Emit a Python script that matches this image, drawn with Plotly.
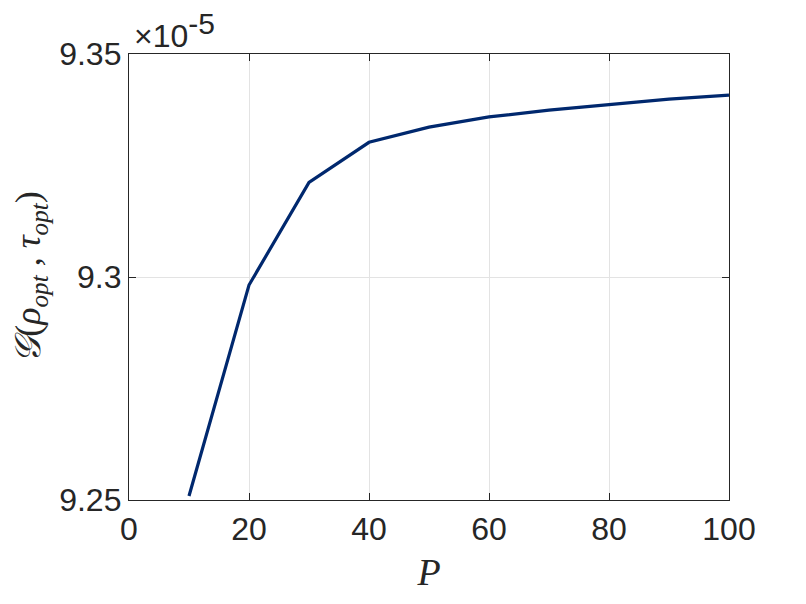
import plotly.graph_objects as go

P = [10, 20, 30, 40, 50, 60, 70, 80, 90, 100]
G_scaled = [9.2509, 9.2982, 9.3212, 9.3302, 9.3336, 9.3359, 9.3374, 9.3387, 9.3399, 9.3408]  # x 1e-5

x_ticks = [0, 20, 40, 60, 80, 100]
y_ticks = [9.25, 9.3, 9.35]
y_tick_text = ["9.25", "9.3", "9.35"]

fig = go.Figure()
fig.add_trace(go.Scatter(x=P, y=G_scaled, mode="lines",
                         line=dict(color="#00286e", width=3.2), showlegend=False))

axis_common = dict(showline=True, linecolor="#262626", linewidth=1.3, mirror="ticks",
                   ticks="inside", ticklen=7, tickcolor="#262626", automargin=False,
                   showgrid=True, gridcolor="#e3e3e3", gridwidth=1, zeroline=False,
                   tickfont=dict(family="Liberation Sans, Arial", size=32, color="#262626"))

fig.update_xaxes(range=[0, 100], tickvals=x_ticks, ticktext=[str(v) for v in x_ticks],
                 title=dict(text="<i>P</i>", font=dict(family="Liberation Serif, Times New Roman", size=38, color="#262626"),
                            standoff=12),
                 **axis_common)
fig.update_yaxes(range=[9.25, 9.35], tickvals=y_ticks, ticktext=y_tick_text,
                 title=dict(text="<i>𝒢</i>(<i>ρ</i><sub><i>opt</i></sub> , <i>τ</i><sub><i>opt</i></sub>)",
                            font=dict(family="Liberation Serif, DejaVu Serif, Times New Roman", size=36, color="#262626"),
                            standoff=16),
                 **axis_common)

fig.add_annotation(text="×10<sup><span style='font-size:30px'>-5</span></sup>", xref="paper", yref="paper", x=0.0, y=1.0,
                   xanchor="left", yanchor="bottom", showarrow=False, yshift=-2, xshift=3,
                   font=dict(family="Liberation Sans, Arial", size=32, color="#262626"))

fig.update_layout(width=806, height=604, plot_bgcolor="white", paper_bgcolor="white",
                  margin=dict(l=121, r=85, t=46, b=112, autoexpand=False))

fig.write_html("out.html")
